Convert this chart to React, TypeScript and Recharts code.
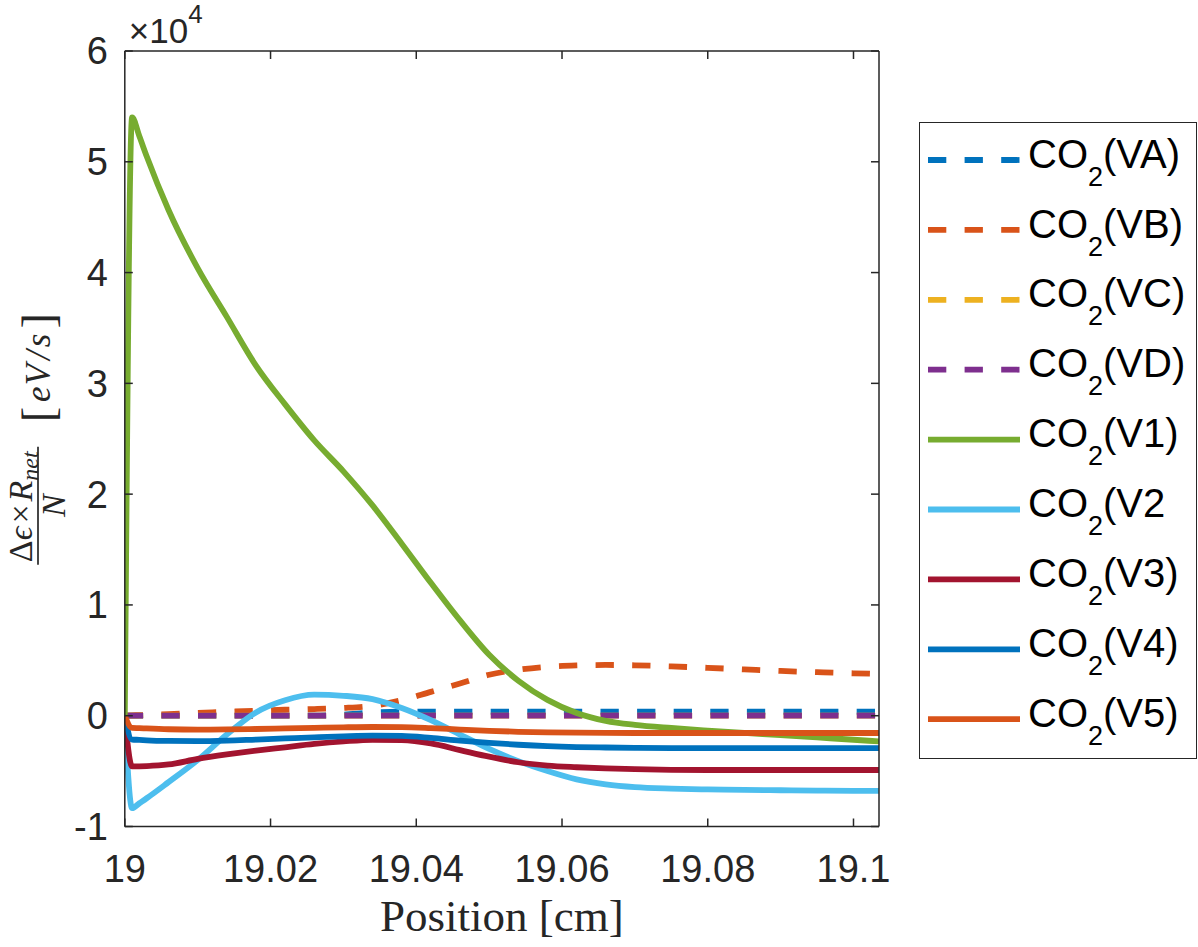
import React from "react";
import { LineChart, Line, XAxis, YAxis, Legend } from "recharts";

// positions along the axis [cm]
const positions = [
  19, 19.001, 19.002, 19.003, 19.006, 19.01, 19.014, 19.018, 19.022, 19.026,
  19.03, 19.034, 19.038, 19.042, 19.046, 19.05, 19.054, 19.058, 19.062,
  19.066, 19.07, 19.075, 19.08, 19.085, 19.09, 19.095, 19.1, 19.1035,
];

// all values in units of 1e4 eV/s
const va = [
  0, 0, 0, 0, 0, 0, 0, 0, 0, 0, 0.01, 0.03, 0.036, 0.036, 0.036, 0.036, 0.036,
  0.036, 0.036, 0.036, 0.036, 0.036, 0.036, 0.036, 0.036, 0.036, 0.036, 0.036,
];
const vb = [
  0, 0.003, 0.005, 0.008, 0.015, 0.025, 0.035, 0.045, 0.054, 0.06, 0.07, 0.09,
  0.14, 0.215, 0.29, 0.37, 0.415, 0.442, 0.454, 0.458, 0.455, 0.445, 0.432,
  0.418, 0.404, 0.393, 0.383, 0.378,
];
const vc = [
  0, 0, 0, 0, 0, 0, 0, 0, 0, 0, 0, 0, 0, 0, 0, 0, 0, 0, 0, 0, 0, 0, 0, 0, 0,
  0, 0, 0,
];
const vd = [
  0, 0, 0, 0, 0, 0, 0, 0, 0, 0, 0, 0, 0, 0, 0, 0, 0, 0, 0, 0, 0, 0, 0, 0, 0,
  0, 0, 0,
];
const v1 = [
  0, 5.4, 5.23, 5.05, 4.565, 4.04, 3.6, 3.16, 2.81, 2.485, 2.206, 1.898, 1.553,
  1.2, 0.86, 0.55, 0.316, 0.143, 0.025, -0.046, -0.083, -0.111, -0.134,
  -0.155, -0.175, -0.196, -0.217, -0.232,
];
const v2 = [
  0, -0.835, -0.79, -0.745, -0.6, -0.4, -0.17, 0.03, 0.14, 0.19, 0.18, 0.15,
  0.07, -0.04, -0.17, -0.3, -0.41, -0.5, -0.575, -0.62, -0.645, -0.658, -0.665,
  -0.67, -0.673, -0.676, -0.678, -0.678,
];
const v3 = [
  0, -0.458, -0.457, -0.455, -0.44, -0.39, -0.35, -0.315, -0.285, -0.255,
  -0.232, -0.217, -0.22, -0.25, -0.31, -0.37, -0.42, -0.45, -0.465, -0.476,
  -0.483, -0.488, -0.49, -0.49, -0.49, -0.49, -0.49, -0.49,
];
const v4 = [
  0, -0.215, -0.218, -0.222, -0.228, -0.23, -0.225, -0.215, -0.205, -0.195,
  -0.186, -0.18, -0.182, -0.2, -0.225, -0.245, -0.262, -0.275, -0.283, -0.287,
  -0.29, -0.292, -0.292, -0.292, -0.292, -0.292, -0.292, -0.292,
];
const v5 = [
  0, -0.11, -0.112, -0.115, -0.122, -0.125, -0.124, -0.12, -0.115, -0.11,
  -0.105, -0.102, -0.103, -0.112, -0.125, -0.137, -0.145, -0.15, -0.153,
  -0.155, -0.156, -0.156, -0.156, -0.156, -0.156, -0.156, -0.156, -0.156,
];

const xTicks = [19, 19.02, 19.04, 19.06, 19.08, 19.1];
const yTicks = [-1, 0, 1, 2, 3, 4, 5, 6];

const keys = ["VA", "VB", "VC", "VD", "V1", "V2", "V3", "V4", "V5"];
const labels = ["(VA)", "(VB)", "(VC)", "(VD)", "(V1)", "(V2", "(V3)", "(V4)", "(V5)"];
const colors = [
  "#0072BD", "#D95319", "#EDB120", "#7E2F8E",
  "#77AC30", "#4DBEEE", "#A2142F", "#0072BD", "#D95319",
];
const dashed = [true, true, true, true, false, false, false, false, false];
const values = [va, vb, vc, vd, v1, v2, v3, v4, v5];

const rows = positions.map((p, i) => {
  const row: Record<string, number> = { pos: p };
  keys.forEach((k, j) => {
    row[k] = values[j][i];
  });
  return row;
});

const AXIS = "#262626";
const SANS = "'Liberation Sans', Arial, Helvetica, sans-serif";
const SERIF = "'Liberation Serif', 'Times New Roman', 'DejaVu Serif', serif";
const DASH = "18.3 18.3";
const TICK_LEN = 8;
const X_GAP = 28.5;
const Y_GAP = 17;
const TICK_FONT = 38;

const lineStyle = { stroke: AXIS, strokeWidth: 1.5 };

// inward tick + label for the bottom axis
const TickB = (props: any) => {
  const { x, y, payload } = props;
  const axisY = y - X_GAP;
  return (
    <g>
      <line x1={x} x2={x} y1={axisY} y2={axisY - TICK_LEN} stroke={AXIS} strokeWidth={1.5} />
      <text
        x={x}
        y={y}
        dy="0.71em"
        textAnchor="middle"
        fontFamily={SANS}
        fontSize={TICK_FONT}
        fill={AXIS}
      >
        {String(Math.round(payload.value * 100) / 100)}
      </text>
    </g>
  );
};

// inward tick + label for the left axis
const TickL = (props: any) => {
  const { x, y, payload } = props;
  const axisX = x + Y_GAP;
  return (
    <g>
      <line x1={axisX} x2={axisX + TICK_LEN} y1={y} y2={y} stroke={AXIS} strokeWidth={1.5} />
      <text
        x={x}
        y={y}
        dy="0.355em"
        textAnchor="end"
        fontFamily={SANS}
        fontSize={TICK_FONT}
        fill={AXIS}
      >
        {String(payload.value)}
      </text>
    </g>
  );
};

const YTitle = (props: any) => {
  const vb = props.viewBox;
  const cy = vb.y + vb.height / 2;
  return (
    <g transform={`translate(38,${cy}) rotate(-90)`} fill={AXIS} fontFamily={SERIF}>
      <text x={-68} y={-6} textAnchor="middle" fontSize={34}>
        <tspan>Δ</tspan>
        <tspan fontStyle="italic">ϵ</tspan>
        <tspan dx={3}>×</tspan>
        <tspan dx={3} fontStyle="italic">R</tspan>
        <tspan fontSize={24} fontStyle="italic" dy={6}>net</tspan>
      </text>
      <line x1={-126} x2={-8} y1={0} y2={0} stroke={AXIS} strokeWidth={1.7} />
      <text x={-67} y={27} textAnchor="middle" fontSize={34} fontStyle="italic">
        N
      </text>
      <text x={71} y={12} textAnchor="middle" fontSize={35}>
        <tspan fontSize={46} dy={4}>[</tspan>
        <tspan fontStyle="italic" dx={5} dy={-4}>e</tspan>
        <tspan fontStyle="italic" dx={1}>V</tspan>
        <tspan fontStyle="italic" dx={4}>/</tspan>
        <tspan fontStyle="italic" dx={3}>s</tspan>
        <tspan fontSize={46} dx={5} dy={4}>]</tspan>
      </text>
    </g>
  );
};

const XTitle = (props: any) => {
  const vb = props.viewBox;
  return (
    <text
      x={vb.x + vb.width / 2}
      y={vb.y + 104}
      textAnchor="middle"
      fontFamily={SERIF}
      fontSize={45}
      fill={AXIS}
    >
      Position [cm]
    </text>
  );
};

const Exponent = (props: any) => {
  const vb = props.viewBox;
  return (
    <text
      x={vb.x + 4}
      y={vb.y - 8}
      fontFamily={SANS}
      fill={AXIS}
      style={{ fontSize: 35 }}
    >
      ×10
      <tspan style={{ fontSize: 26 }} dy={-20}>4</tspan>
    </text>
  );
};

const LegendBox = () => (
  <div
    style={{
      width: 278,
      height: 637,
      boxSizing: "border-box",
      border: `1.5px solid ${AXIS}`,
      background: "#fff",
    }}
  >
    <svg width={275} height={634} style={{ display: "block" }}>
      {keys.map((k, i) => {
        const cy = 37 + i * 69.9;
        return (
          <g key={k}>
            <line
              x1={8}
              x2={100}
              y1={cy}
              y2={cy}
              stroke={colors[i]}
              strokeWidth={5.8}
              strokeDasharray={dashed[i] ? DASH : undefined}
            />
            <text x={108} y={cy + 7.6} fontFamily={SANS} fontSize={40} fill="#000">
              CO
              <tspan fontSize={27} dy={18}>2</tspan>
              <tspan fontSize={40} dy={-18}>{labels[i]}</tspan>
            </text>
          </g>
        );
      })}
    </svg>
  </div>
);

export default function App() {
  return (
    <div style={{ position: "absolute", left: 0, top: 0 }}>
      <LineChart
        width={1198}
        height={947}
        data={rows}
        margin={{ top: 51, right: 319, bottom: 0, left: 0 }}
      >
        <XAxis
          xAxisId="b"
          dataKey="pos"
          type="number"
          domain={[19, 19.1035]}
          allowDataOverflow
          ticks={xTicks}
          interval={0}
          height={120.5}
          tickSize={0}
          tickMargin={X_GAP}
          tick={TickB}
          tickLine={false}
          axisLine={lineStyle}
          label={XTitle}
        />
        <XAxis
          xAxisId="t"
          dataKey="pos"
          type="number"
          orientation="top"
          mirror
          domain={[19, 19.1035]}
          allowDataOverflow
          ticks={xTicks}
          interval={0}
          height={1}
          tickSize={TICK_LEN}
          axisLine={lineStyle}
          tickLine={lineStyle}
          tickFormatter={() => ""}
          label={Exponent}
        />
        <YAxis
          yAxisId="l"
          type="number"
          domain={[-1, 6]}
          allowDataOverflow
          ticks={yTicks}
          interval={0}
          width={124.8}
          tickSize={0}
          tickMargin={Y_GAP}
          tick={TickL}
          tickLine={false}
          axisLine={lineStyle}
          label={YTitle}
        />
        <YAxis
          yAxisId="r"
          type="number"
          orientation="right"
          mirror
          domain={[-1, 6]}
          allowDataOverflow
          ticks={yTicks}
          interval={0}
          width={1}
          tickSize={TICK_LEN}
          axisLine={lineStyle}
          tickLine={lineStyle}
          tickFormatter={() => ""}
        />
        {keys.map((k, i) => (
          <Line
            key={k}
            xAxisId={k === "VC" ? "t" : "b"}
            yAxisId={k === "VC" ? "r" : "l"}
            dataKey={k}
            type="monotone"
            stroke={colors[i]}
            strokeWidth={5.8}
            strokeDasharray={dashed[i] ? DASH : undefined}
            dot={false}
            activeDot={false}
            isAnimationActive={false}
          />
        ))}
        <Legend
          layout="vertical"
          align="center"
          verticalAlign="middle"
          content={LegendBox}
          wrapperStyle={{ left: 919, top: 122, width: 278, height: 637 }}
        />
      </LineChart>
    </div>
  );
}
